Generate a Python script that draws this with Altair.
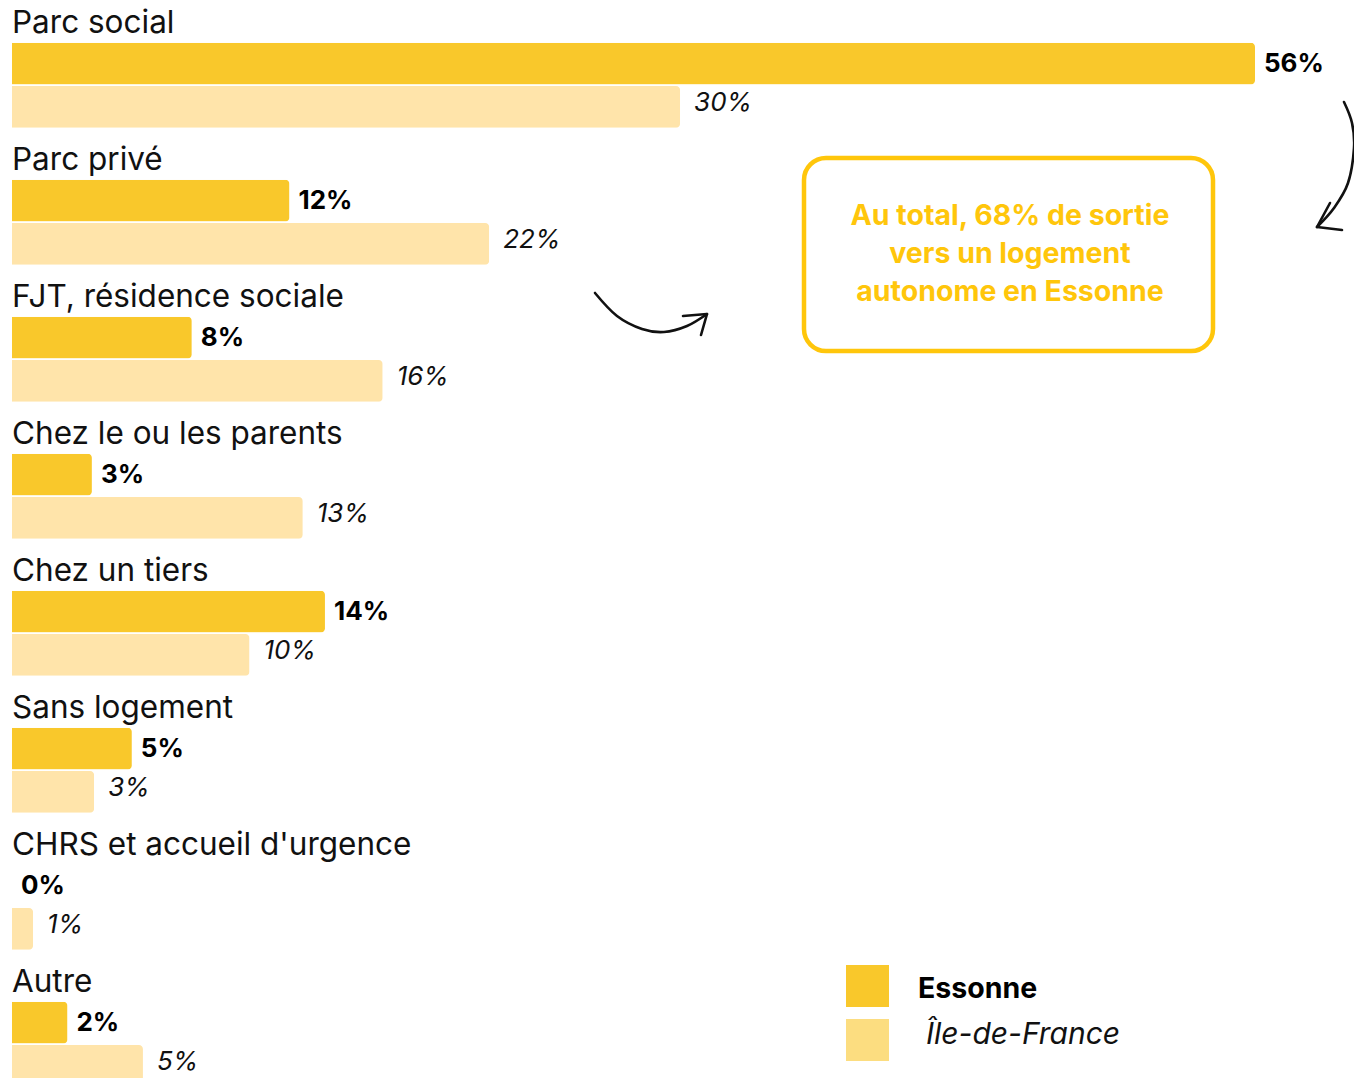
import altair as alt
import pandas as pd

# ---- data ----
categories = ["Parc social", "Parc privé", "FJT, résidence sociale", "Chez le ou les parents",
              "Chez un tiers", "Sans logement", "CHRS et accueil d'urgence", "Autre"]
essonne_values = [56.0, 12.5, 8.1, 3.6, 14.1, 5.4, 0.0, 2.5]
idf_values = [30.1, 21.5, 16.7, 13.1, 10.7, 3.7, 0.95, 5.9]
essonne_labels = ["56%", "12%", "8%", "3%", "14%", "5%", "0%", "2%"]
idf_labels = ["30%", "22%", "16%", "13%", "10%", "3%", "1%", "5%"]
series = ["Essonne", "Île-de-France"]
callout_lines = ["Au total, 68% de sortie", "vers un logement", "autonome en Essonne"]

FONT = "Inter"
C_ESS = "#F9C82B"
C_IDF = "#FFE4AA"
C_IDF_LEG = "#FCDD80"
C_CALLOUT = "#FFC60B"

rows = []
for c, v, l in zip(categories, essonne_values, essonne_labels):
    rows.append({"cat": c, "series": "Essonne", "value": v, "label": l})
for c, v, l in zip(categories, idf_values, idf_labels):
    rows.append({"cat": c, "series": "Île-de-France", "value": v, "label": l})
df = pd.DataFrame(rows)
cat_df = pd.DataFrame({"cat": categories, "series": ["Essonne"] * len(categories)})

STEP = 137
xs = alt.Scale(domain=[0, 56], nice=False, zero=True)
ys = alt.Scale(domain=categories, range=[2.5, 2.5 + STEP * len(categories)], paddingInner=0, paddingOuter=0)
yos = alt.Scale(domain=series, paddingInner=0.04, paddingOuter=0.6, align=0.62)

Y = alt.Y("cat:N", scale=ys, axis=None, sort=categories)
YO = alt.YOffset("series:N", scale=yos, sort=series)
X = alt.X("value:Q", scale=xs, axis=None)

base = alt.Chart(df)

bars = base.mark_bar(cornerRadiusEnd=4).encode(
    x=X, y=Y, yOffset=YO,
    color=alt.Color("series:N", scale=alt.Scale(domain=series, range=[C_ESS, C_IDF]), legend=None),
)

ess_text = base.transform_filter(alt.datum.series == "Essonne").mark_text(
    align="left", baseline="middle", dx=9, dy=0, font=FONT, fontSize=26, fontWeight="bold", color="#000"
).encode(x=X, y=Y, yOffset=YO, text="label:N")

idf_text = base.transform_filter(alt.datum.series == "Île-de-France").mark_text(
    align="left", baseline="middle", dx=14, dy=-4, font=FONT, fontSize=26, fontStyle="italic", color="#111"
).encode(x=X, y=Y, yOffset=YO, text="label:N")

cat_text = alt.Chart(cat_df).mark_text(
    align="left", baseline="middle", dy=-40, font=FONT, fontSize=31.5, color="#111"
).encode(x=alt.datum(0, scale=xs), y=Y, yOffset=YO, text="cat:N")

# callout box
box = alt.Chart(pd.DataFrame({"k": [0]})).mark_rect(
    fill="white", stroke=C_CALLOUT, strokeWidth=4.5, cornerRadius=22
).encode(x=alt.value(792), x2=alt.value(1201), y=alt.value(150), y2=alt.value(343))

callout = alt.Chart(pd.DataFrame({"t": [callout_lines]})).mark_text(
    align="center", baseline="middle", font=FONT, fontSize=28.5, fontWeight="bold",
    color=C_CALLOUT, lineHeight=38
).encode(x=alt.value(998), y=alt.value(208), text="t")

# legend (drawn manually)
leg_rect1 = alt.Chart(pd.DataFrame({"k": [0]})).mark_rect(color=C_ESS).encode(
    x=alt.value(834), x2=alt.value(877), y=alt.value(957), y2=alt.value(999))
leg_rect2 = alt.Chart(pd.DataFrame({"k": [0]})).mark_rect(color=C_IDF_LEG).encode(
    x=alt.value(834), x2=alt.value(877), y=alt.value(1011), y2=alt.value(1053))
leg_t1 = alt.Chart(pd.DataFrame({"t": [series[0]]})).mark_text(
    align="left", baseline="middle", font=FONT, fontSize=28.5, fontWeight="bold", color="#000"
).encode(x=alt.value(906), y=alt.value(981), text="t")
leg_t2 = alt.Chart(pd.DataFrame({"t": [series[1]]})).mark_text(
    align="left", baseline="middle", font=FONT, fontSize=30, fontStyle="italic", color="#111"
).encode(x=alt.value(914), y=alt.value(1027), text="t")

main = alt.layer(bars, ess_text, idf_text, cat_text)

# hand-drawn arrows (pixel paths, chart coordinates)
arrow_pts = [
    ("a1", 0, 583, 285), ("a1", 1, 605, 308), ("a1", 2, 630, 321), ("a1", 3, 652, 324),
    ("a1", 4, 675, 318), ("a1", 5, 695, 306),
    ("a1h", 0, 671, 308), ("a1h", 1, 695, 306), ("a1h", 2, 689, 327),
    ("a2", 0, 1332, 94), ("a2", 1, 1340, 115), ("a2", 2, 1342, 140), ("a2", 3, 1336, 175),
    ("a2", 4, 1322, 200), ("a2", 5, 1305, 219),
    ("a2h", 0, 1318, 195), ("a2h", 1, 1305, 219), ("a2h", 2, 1330, 222),
]
arrow_df = pd.DataFrame(arrow_pts, columns=["path", "order", "px", "py"])
arrows_curve = alt.Chart(arrow_df).transform_filter(
    (alt.datum.path == "a1") | (alt.datum.path == "a2")
).mark_line(interpolate="cardinal", color="#111", strokeWidth=2.6, strokeCap="round").encode(
    x=alt.X("px:Q", scale=None, axis=None), y=alt.Y("py:Q", scale=None, axis=None),
    detail="path:N", order="order:Q")
arrows_head = alt.Chart(arrow_df).transform_filter(
    (alt.datum.path == "a1h") | (alt.datum.path == "a2h")
).mark_line(color="#111", strokeWidth=2.6, strokeCap="round", strokeJoin="round").encode(
    x=alt.X("px:Q", scale=None, axis=None), y=alt.Y("py:Q", scale=None, axis=None),
    detail="path:N", order="order:Q")

annot = alt.layer(box, callout, leg_rect1, leg_rect2, leg_t1, leg_t2, arrows_curve, arrows_head)

chart = alt.layer(main, annot).resolve_scale(x="independent", y="independent").properties(
    width=1243, height=1070,
    autosize=alt.AutoSizeParams(type="none"),
    padding={"left": 4, "top": 0, "right": 99, "bottom": 0},
    background="white",
).configure_view(stroke=None)

chart.save("out.html", embed_options={"renderer": "svg", "actions": False})
